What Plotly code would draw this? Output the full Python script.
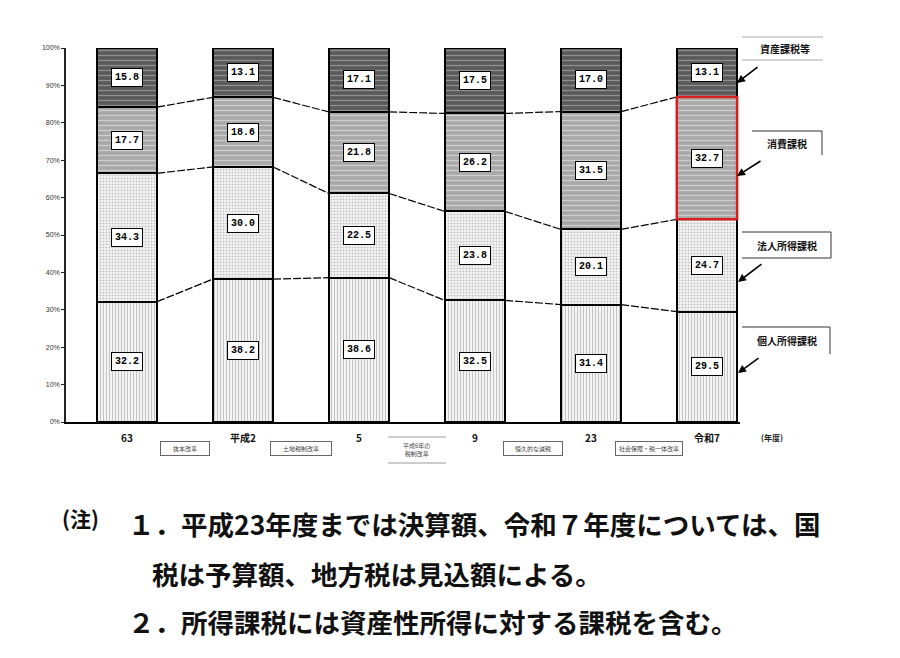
import plotly.graph_objects as go

W, H = 900, 658

categories = ["63", "平成2", "5", "9", "23", "令和7"]
series_names = ["個人所得課税", "法人所得課税", "消費課税", "資産課税等"]
kojin = [32.2, 38.2, 38.6, 32.5, 31.4, 29.5]
hojin = [34.3, 30.0, 22.5, 23.8, 20.1, 24.7]
shohi = [17.7, 18.6, 21.8, 26.2, 31.5, 32.7]
shisan = [15.8, 13.1, 17.1, 17.5, 17.0, 13.1]
y_ticks = [0, 10, 20, 30, 40, 50, 60, 70, 80, 90, 100]
y_tick_labels = [f"{v}%" for v in y_ticks]
reform_labels = ["抜本改革", "土地税制改革", "平成6年の<br>税制改革", "恒久的な減税", "社会保障・税一体改革"]
year_unit = "(年度)"
notes = [
    "(注)",
    "１．平成23年度までは決算額、令和７年度については、国",
    "税は予算額、地方税は見込額による。",
    "２．所得課税には資産性所得に対する課税を含む。",
]

series = [kojin, hojin, shohi, shisan]
styles = [
    dict(bg="#f4f4f4", fg="#bdbdbd", shape="|", size=3, sol=0.3),
    dict(bg="#f7f7f7", fg="#c4c4c4", shape=".", size=3, sol=0.4),
    dict(bg="#a9a9a9", fg="#cfcfcf", shape="-", size=5, sol=0.25),
    dict(bg="#5a5a5a", fg="#909090", shape="-", size=5, sol=0.25),
]
reform_box_w = [46, 58, 58, 56, 64]

# plot area in pixels
PX_L, PX_R, PX_T, PX_B = 66, 740, 48, 422
BAR_W = 0.52
x_idx = list(range(len(categories)))
XR = [-0.526, 5.285]


def px(xp):
    return xp / W


def py(yp):
    return 1 - yp / H


fig = go.Figure()
for name, vals, st in zip(series_names, series, styles):
    fig.add_trace(go.Bar(
        x=x_idx, y=vals, name=name, width=BAR_W,
        marker=dict(color=st["bg"], line=dict(color="black", width=2),
                    pattern=dict(shape=st["shape"], fillmode="replace",
                                 bgcolor=st["bg"], fgcolor=st["fg"],
                                 size=st["size"], solidity=st["sol"])),
        showlegend=False, hoverinfo="skip",
    ))

# cumulative boundaries
cums = []
for i in x_idx:
    c, acc = [], 0
    for s in series:
        acc += s[i]
        c.append(acc)
    cums.append(c)

# connecting lines
for k in range(3):
    for i in x_idx[:-1]:
        fig.add_trace(go.Scatter(
            x=[i + BAR_W / 2, i + 1 - BAR_W / 2], y=[cums[i][k], cums[i + 1][k]],
            mode="lines", line=dict(color="black", width=1.2, dash="8px,2px"),
            showlegend=False, hoverinfo="skip"))

annotations = []


def ann(**kw):
    kw.setdefault("xanchor", "center")
    kw.setdefault("yanchor", "middle")
    kw.setdefault("showarrow", False)
    annotations.append(kw)


# value labels
for i in x_idx:
    base = 0
    for s in series:
        ann(x=i, y=base + s[i] / 2, xref="x", yref="y", text=f"<b>{s[i]:.1f}</b>",
            bgcolor="white", bordercolor="black", borderwidth=1, borderpad=3,
            font=dict(family="Liberation Mono", size=10, color="black"))
        base += s[i]

shapes = []
# red box around 令和7 消費課税
i = len(categories) - 1
shapes.append(dict(type="rect", xref="x", yref="y", x0=i - BAR_W / 2, x1=i + BAR_W / 2,
                   y0=cums[i][1], y1=cums[i][2], line=dict(color="#d62020", width=2.5)))

# category labels
for i, c in enumerate(categories):
    ann(x=i, y=py(437), xref="x", yref="paper", text=f"<b>{c}</b>",
        font=dict(family="Noto Sans CJK JP", size=10, color="#111"))
ann(x=px(772), y=py(437), xref="paper", yref="paper", text=f"<b>{year_unit}</b>",
    font=dict(family="Noto Sans CJK JP", size=8, color="#222"))

# reform labels
for j, lab in enumerate(reform_labels):
    if "<br>" in lab:
        ann(x=j + 0.5, y=py(450), xref="x", yref="paper", text=lab,
            font=dict(family="Noto Sans CJK JP", size=6, color="#444"))
        for yy in (437, 463):
            shapes.append(dict(type="line", xref="x", yref="paper", x0=j + 0.5 - 0.25, x1=j + 0.5 + 0.25,
                               y0=py(yy), y1=py(yy), line=dict(color="#999", width=1)))
    else:
        ann(x=j + 0.5, y=py(448), xref="x", yref="paper", text=lab, width=reform_box_w[j], height=11,
            bgcolor="white", bordercolor="#666", borderwidth=1, borderpad=1,
            font=dict(family="Noto Sans CJK JP", size=6, color="#444"))

# right side labels
right = [
    ("資産課税等", 785, 48, (759, 66), (737, 83)),
    ("消費課税", 787, 143, (762, 160), (737, 176)),
    ("法人所得課税", 787, 245, (763, 263), (738, 282)),
    ("個人所得課税", 787, 340, (760, 357), (738, 373)),
]
for txt, xx, yy, a0, a1 in right:
    ann(x=px(xx), y=py(yy), xref="paper", yref="paper", text=f"<b>{txt}</b>",
        font=dict(family="Noto Sans CJK JP", size=10, color="#111"))
    ann(x=px(a1[0]), y=py(a1[1]), xref="paper", yref="paper", text="",
        showarrow=True, arrowhead=2, arrowsize=1, arrowwidth=1.6, arrowcolor="black",
        ax=a0[0] - a1[0], ay=a0[1] - a1[1], axref="pixel", ayref="pixel")


def pline(x0, y0, x1, y1, color="#333", width=1):
    shapes.append(dict(type="line", xref="paper", yref="paper", x0=px(x0), x1=px(x1),
                       y0=py(y0), y1=py(y1), line=dict(color=color, width=width)))


pline(742, 37, 823, 37, "#aaa")
pline(742, 60, 823, 60, "#aaa")
pline(752, 131, 822, 131)
pline(822, 131, 822, 155)
pline(742, 232, 831, 232)
pline(742, 258, 831, 258)
pline(831, 232, 831, 258)
pline(742, 327, 830, 327)
pline(830, 327, 830, 354)

# notes
ann(x=px(60), y=py(518), xref="paper", yref="paper", text=notes[0], xanchor="left",
    font=dict(family="Noto Sans CJK JP", size=21, color="#111", weight=600))
for txt, xx, yy in [(notes[1], 126, 523), (notes[2], 150, 573), (notes[3], 126, 621)]:
    ann(x=px(xx), y=py(yy), xref="paper", yref="paper", text=txt, xanchor="left",
        font=dict(family="Noto Sans CJK JP", size=26.5, color="#111", weight=600))

fig.update_layout(
    width=W, height=H, margin=dict(l=0, r=0, t=0, b=0, pad=0, autoexpand=False),
    paper_bgcolor="white", plot_bgcolor="white", barmode="stack", bargap=0,
    xaxis=dict(domain=[px(PX_L), px(PX_R)], range=XR, showticklabels=False, showgrid=False,
               zeroline=False, showline=True, linecolor="black", linewidth=1.5, ticks="",
               automargin=False),
    yaxis=dict(domain=[py(PX_B), py(PX_T)], range=[0, 100], tickvals=y_ticks, ticktext=y_tick_labels,
               showgrid=False, zeroline=False, showline=True, linecolor="#222", linewidth=1.5,
               ticks="outside", ticklen=3, tickcolor="#222", automargin=False,
               tickfont=dict(family="Liberation Sans", size=7, color="#333")),
    annotations=annotations, shapes=shapes,
)

fig.write_html("out.html", config={"responsive": False, "displayModeBar": False},
               post_script="document.body.style.margin='0';")
